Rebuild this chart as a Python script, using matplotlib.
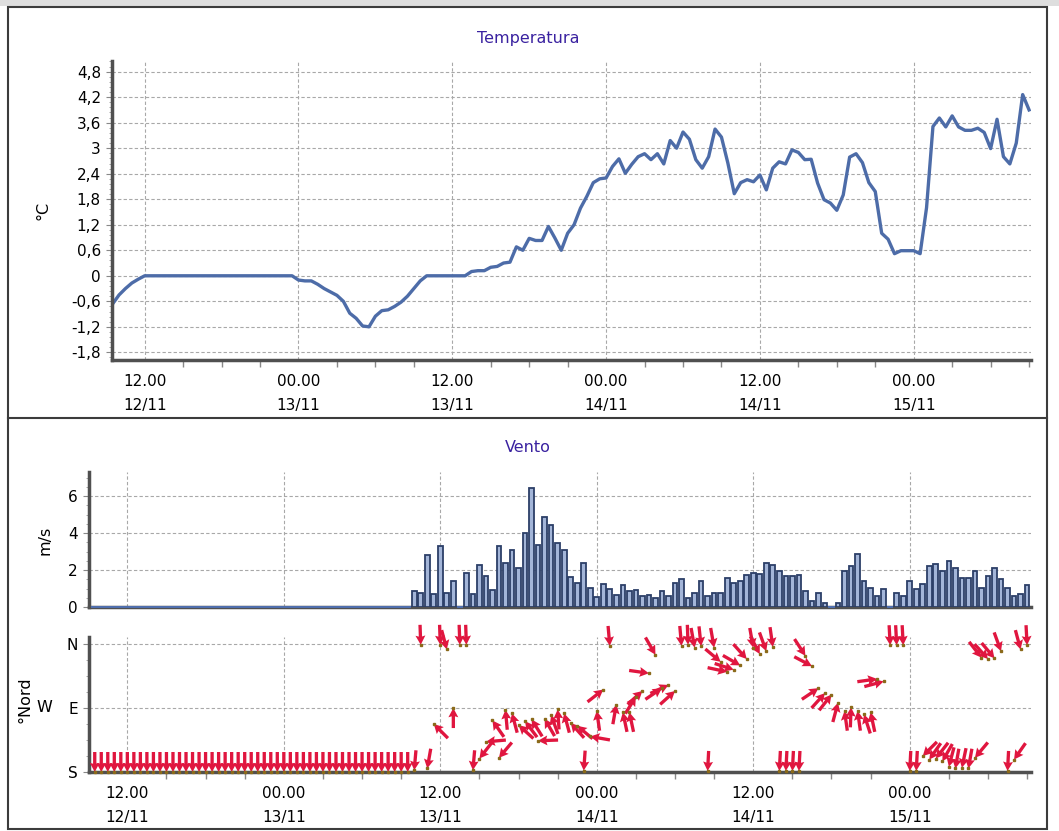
import numpy as np
import matplotlib
matplotlib.use("Agg")
import matplotlib.pyplot as plt
from matplotlib.ticker import MultipleLocator, AutoMinorLocator, FuncFormatter, FixedLocator
from matplotlib.patches import Rectangle
from matplotlib.lines import Line2D
from datetime import datetime, timedelta

# campioni semiorari, ore contate da 12/11 00:00
t_inizio, t_fine, passo = 9.5, 81.0, 0.5
ore = np.arange(t_inizio, t_fine + passo / 2, passo)
giorno0 = datetime(2012, 11, 12)

# temperatura (°C)
temperatura = [
    -0.66, -0.45, -0.30, -0.17, -0.08,
    0, 0, 0, 0, 0, 0, 0, 0, 0, 0, 0, 0, 0, 0, 0, 0, 0, 0, 0, 0, 0, 0, 0, 0,
    -0.10, -0.12, -0.12, -0.20, -0.30, -0.38, -0.46, -0.60, -0.88, -1.00,
    -1.18, -1.20, -0.95, -0.82, -0.80, -0.72, -0.62, -0.48, -0.30, -0.12,
    0, 0, 0, 0, 0, 0, 0,
    0.10, 0.12, 0.12, 0.20, 0.22, 0.30, 0.32, 0.68, 0.60, 0.88, 0.83,
    0.83, 1.16, 0.89, 0.60, 1.00, 1.20, 1.59, 1.87, 2.19, 2.28,
    2.30, 2.57, 2.75, 2.41, 2.62, 2.80, 2.87, 2.73, 2.87, 2.63, 3.18, 3.00,
    3.38, 3.21, 2.73, 2.53, 2.80, 3.45, 3.26, 2.65, 1.93, 2.19, 2.26, 2.21,
    2.37, 2.02, 2.53, 2.68, 2.63, 2.96, 2.90, 2.73, 2.74, 2.18, 1.79, 1.71,
    1.54, 1.90, 2.79, 2.87, 2.66, 2.19, 1.98, 1.00, 0.86, 0.52, 0.59, 0.59,
    0.59, 0.52, 1.60, 3.51, 3.71, 3.50, 3.76, 3.50, 3.42, 3.42, 3.47, 3.37,
    2.99, 3.68, 2.80, 2.63, 3.12, 4.26, 3.90,
]

# velocita vento (m/s)
vento_vel = [
    0, 0, 0, 0, 0, 0, 0, 0, 0, 0, 0, 0, 0, 0, 0, 0, 0, 0, 0, 0, 0, 0, 0, 0, 0,
    0, 0, 0, 0, 0, 0, 0, 0, 0, 0, 0, 0, 0, 0, 0, 0, 0, 0, 0, 0, 0, 0, 0, 0,
    0.87, 0.76, 2.83, 0.69, 3.28, 0.78, 1.41, 0, 1.85, 0.69, 2.28, 1.65, 0.94,
    3.28, 2.39, 3.10, 2.10, 4.00, 6.41, 3.37, 4.89, 4.46, 3.48, 3.10, 1.60,
    1.32, 2.39, 1.05,
    0.54, 1.23, 0.96, 0.65, 1.21, 0.87, 0.94, 0.58, 0.67, 0.51, 0.87, 0.58,
    1.30, 1.49, 0.51, 0.76, 1.39, 0.58, 0.76, 0.76, 1.56, 1.30, 1.41, 1.74,
    1.83, 1.78, 2.39, 2.28, 1.92, 1.65, 1.65, 1.74, 0.85, 0.33, 0.76, 0.20,
    0, 0.22, 1.96, 2.21, 2.84, 1.41, 1.05, 0.60, 0.96, 0, 0.78, 0.58,
    1.41, 0.96, 1.23, 2.21, 2.30, 1.94, 2.48, 2.10, 1.58, 1.58, 1.94, 1.05,
    1.67, 2.12, 1.49, 1.05, 0.60, 0.69, 1.21,
]

# direzione vento (gradi)
vento_dir = [
    0, 0, 0, 0, 0, 0, 0, 0, 0, 0, 0, 0, 0, 0, 0, 0, 0, 0, 0, 0, 0, 0, 0, 0, 0,
    0, 0, 0, 0, 0, 0, 0, 0, 0, 0, 0, 0, 0, 0, 0, 0, 0, 0, 0, 0, 0, 0, 0, 0,
    5, 358, 10, 135, 358, 345, 180, 358, 358, 5, 38, 85, 145, 40, 175, 165,
    132, 143, 148, 88, 150, 160, 176, 165, 138, 130, 4, 100,
    172, 232, 355, 190, 168, 168, 212, 228, 278, 330, 236, 245, 228, 355,
    358, 350, 354, 3, 350, 310, 282, 288, 300, 318,
    350, 332, 340, 352, 3, 3, 3, 3, 327, 298, 236, 222, 218, 195, 172, 182,
    172, 162, 168, 262, 255, 357, 357, 357,
    3, 3, 45, 35, 38, 30, 15, 10, 12, 10, 40, 322, 318, 320, 340, 3, 35, 345,
    357,
]

W, H = 1059, 831
fig = plt.figure(figsize=(W / 100, H / 100), dpi=100)
plt.rcParams['font.family'] = ['DejaVu Sans']

col_grid = '#a8a8a8'
col_spine = '#505050'
col_titolo = '#3a22a0'


def fmt_ora(x, pos):
    d = giorno0 + timedelta(hours=x)
    return d.strftime("%H.%M\n%d/%m")


def fmt_virgola(x, pos):
    if abs(x) < 1e-9:
        return "0"
    return f"{round(x, 2):g}".replace(".", ",")


def stile_assi(ax):
    for s in ['top', 'right']:
        ax.spines[s].set_visible(False)
    for s in ['left', 'bottom']:
        ax.spines[s].set_color(col_spine)
        ax.spines[s].set_linewidth(2.5)
    ax.xaxis.set_major_locator(MultipleLocator(12))
    ax.xaxis.set_minor_locator(MultipleLocator(3))
    ax.xaxis.set_major_formatter(FuncFormatter(fmt_ora))
    ax.tick_params(axis='x', which='major', length=0, pad=10, labelsize=11)
    ax.tick_params(axis='x', which='minor', length=5, color='#888888', width=1)
    ax.tick_params(axis='y', which='major', length=4, color='#888888', labelsize=11, pad=4)
    ax.tick_params(axis='y', which='minor', length=2, color='#999999')
    ax.grid(True, which='major', color=col_grid, linestyle=(0, (3, 2)), linewidth=0.8)
    ax.set_axisbelow(True)


# --- Temperatura ---
ax_t = fig.add_axes([112 / W, 1 - 360 / H, (1031 - 112) / W, (360 - 61) / H])
stile_assi(ax_t)
ax_t.plot(ore, temperatura, color='#4d6ca8', linewidth=2.4, solid_joinstyle='round')
ax_t.set_xlim(9.45, 81.15)
ax_t.set_ylim(-1.98, 5.05)
ax_t.yaxis.set_major_locator(MultipleLocator(0.6))
ax_t.yaxis.set_minor_locator(AutoMinorLocator(5))
ax_t.yaxis.set_major_formatter(FuncFormatter(fmt_virgola))

# --- Vento: velocita ---
ax_v = fig.add_axes([89 / W, 1 - 607 / H, (1031 - 89) / W, (607 - 472) / H])
stile_assi(ax_v)
vel = np.array(vento_vel)
pieni = vel > 0
ax_v.bar(ore[pieni], vel[pieni], width=0.36, color='#a3b5d8',
         edgecolor='#2c3f68', linewidth=1.3, zorder=3)
ax_v.hlines(np.zeros((~pieni).sum()), ore[~pieni] - passo / 2, ore[~pieni] + passo / 2,
            color='#4f72b8', linewidth=1.3, zorder=3, clip_on=False)
ax_v.set_xlim(9.06, 81.3)
ax_v.set_ylim(0, 7.3)
ax_v.yaxis.set_major_locator(MultipleLocator(2))
ax_v.yaxis.set_minor_locator(AutoMinorLocator(4))
ax_v.tick_params(axis='x', which='both', labelbottom=False, length=0)

# --- Vento: direzione ---
ax_d = fig.add_axes([89 / W, 1 - 772 / H, (1031 - 89) / W, (772 - 637) / H])
stile_assi(ax_d)
dirs = np.array(vento_dir, dtype=float)
ang = np.radians(dirs + 180)
ax_d.quiver(ore, dirs, np.sin(ang), np.cos(ang), angles='uv', pivot='tip',
            scale_units='inches', scale=5.0, units='dots', width=3.3,
            headwidth=3.0, headlength=2.8, headaxislength=2.5,
            color='#e0163f', zorder=3, clip_on=False)
ax_d.plot(ore, dirs, 's', ms=1.8, color='#8b6a1a', zorder=4, clip_on=False)
ax_d.set_xlim(9.06, 81.3)
ax_d.set_ylim(0, 380)
ax_d.yaxis.set_major_locator(FixedLocator([0, 180, 360]))
ax_d.yaxis.set_minor_locator(MultipleLocator(45))
ax_d.set_yticklabels(['S', 'E', 'N'])

# testi
fig.text(528 / W, 1 - 38 / H, 'Temperatura', ha='center', va='center', fontsize=11.5, color=col_titolo)
fig.text(528 / W, 1 - 448 / H, 'Vento', ha='center', va='center', fontsize=11.5, color=col_titolo)
fig.text(43 / W, 1 - 210 / H, '°C', ha='center', va='center', rotation=90, fontsize=11.5)
fig.text(45 / W, 1 - 540 / H, 'm/s', ha='center', va='center', rotation=90, fontsize=11.5)
fig.text(25 / W, 1 - 700 / H, '°Nord', ha='center', va='center', rotation=90, fontsize=11.5)
fig.text(44 / W, 1 - 708 / H, 'W', ha='center', va='center', fontsize=11.5)

# cornice
fig.patches.append(Rectangle((0, 1 - 6 / H), 1, 6 / H, transform=fig.transFigure,
                             facecolor='#dedede', edgecolor='none', zorder=0))
fig.patches.append(Rectangle((8 / W, 1 - 829 / H), (1047 - 8) / W, (829 - 7) / H,
                             transform=fig.transFigure, fill=False,
                             edgecolor='#3c3c3c', linewidth=1.5))
fig.add_artist(Line2D([8 / W, 1047 / W], [1 - 418 / H, 1 - 418 / H],
                      color='#3c3c3c', linewidth=1.5))

# etichette orarie su due righe piu spaziate
fig.canvas.draw()
for ax in [ax_t, ax_d]:
    for tk in ax.xaxis.get_major_ticks():
        tk.label1.set_linespacing(1.8)

fig.savefig('out.png', dpi=100)
